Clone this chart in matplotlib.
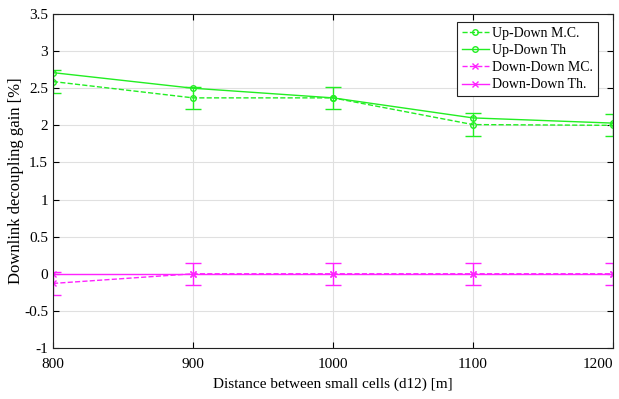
import numpy as np
from matplotlib import pyplot as plt
from matplotlib.lines import Line2D

plt.rcParams['font.family'] = ['Liberation Serif', 'DejaVu Serif']

# data
dist = [800, 900, 1000, 1100, 1200]
ud_mc = [2.59, 2.37, 2.37, 2.01, 2.00]
ud_mc_err = [0.15, 0.15, 0.15, 0.15, 0.15]
ud_th = [2.71, 2.50, 2.37, 2.10, 2.03]
dd_mc = [-0.13, 0.0, 0.0, 0.0, 0.0]
dd_mc_err = [0.15, 0.15, 0.15, 0.15, 0.15]
dd_th = [0.0, 0.0, 0.0, 0.0, 0.0]
labels = ['Up-Down M.C.', 'Up-Down Th', 'Down-Down MC.', 'Down-Down Th.']

green = '#22ee22'
magenta = '#ff22ff'

fig = plt.figure(figsize=(6.19, 3.99), dpi=100)
ax = fig.add_axes([53/619, 1-348/399, 560/619, 334/399])

ax.errorbar(dist, ud_mc, yerr=ud_mc_err, color=green, ls='--', lw=1,
            marker='o', ms=4, mfc='none', capsize=6)
ax.plot(dist, ud_th, color=green, ls='-', lw=1, marker='o', ms=4, mfc='none')
ax.errorbar(dist, dd_mc, yerr=dd_mc_err, color=magenta, ls='--', lw=1,
            marker='x', ms=4, capsize=6)
ax.plot(dist, dd_th, color=magenta, ls='-', lw=1, marker='x', ms=4)

ax.set_xlim(800, 1200)
ax.set_ylim(-1, 3.5)
ax.set_xticks(dist)
ax.set_yticks(np.arange(-1, 3.51, 0.5))
ax.set_yticklabels(['-1', '-0.5', '0', '0.5', '1', '1.5', '2', '2.5', '3', '3.5'])
ax.grid(True, color='#e0e0e0', lw=0.8)
ax.set_axisbelow(True)
ax.tick_params(direction='in', top=True, right=True, labelsize=11, length=4)
ax.tick_params(axis='x', pad=7)
for s in ax.spines.values():
    s.set_color('#222222')
    s.set_linewidth(0.8)

# last x label sits against the figure edge, as in the reference
ax.get_xticklabels()[-1].set_horizontalalignment('right')

ax.set_xlabel('Distance between small cells (d12) [m]', fontsize=11, labelpad=5)
ax.set_ylabel('Downlink decoupling gain [%]', fontsize=12, labelpad=0)

handles = [
    Line2D([], [], color=green, ls='--', lw=1, marker='o', ms=4, mfc='none'),
    Line2D([], [], color=green, ls='-', lw=1, marker='o', ms=4, mfc='none'),
    Line2D([], [], color=magenta, ls='--', lw=1, marker='x', ms=4),
    Line2D([], [], color=magenta, ls='-', lw=1, marker='x', ms=4),
]
leg = ax.legend(handles, labels, loc='upper right',
                bbox_to_anchor=(0.973, 0.976), borderaxespad=0,
                fontsize=10, fancybox=False, edgecolor='#222222',
                framealpha=1, handlelength=2.0, borderpad=0.35,
                labelspacing=0.3, handletextpad=0.2)
leg.get_frame().set_linewidth(0.8)

plt.savefig('out.png', dpi=100)
